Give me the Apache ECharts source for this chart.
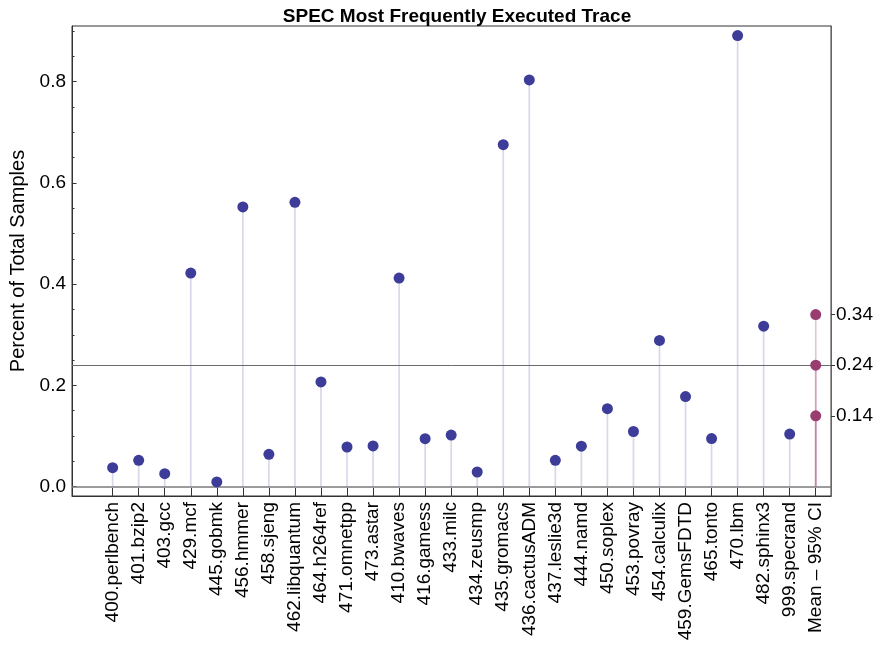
<!DOCTYPE html>
<html>
<head>
<meta charset="utf-8">
<script src="https://cdn.jsdelivr.net/npm/echarts@6/dist/echarts.min.js"></script>
<style>
html,body{margin:0;padding:0;background:#fff;}
#chart{width:876px;height:647px;}
</style>
</head>
<body>
<div id="chart"></div>
<script>
const categories = ["400.perlbench","401.bzip2","403.gcc","429.mcf","445.gobmk","456.hmmer","458.sjeng","462.libquantum","464.h264ref","471.omnetpp","473.astar","410.bwaves","416.gamess","433.milc","434.zeusmp","435.gromacs","436.cactusADM","437.leslie3d","444.namd","450.soplex","453.povray","454.calculix","459.GemsFDTD","465.tonto","470.lbm","482.sphinx3","999.specrand","Mean \u2013 95% CI"];
const values = [0.0375,0.052,0.0257,0.422,0.0093,0.5525,0.064,0.5618,0.207,0.0784,0.0804,0.412,0.0948,0.102,0.029,0.6756,0.8034,0.052,0.080,0.154,0.109,0.289,0.178,0.095,0.891,0.317,0.104];
const ciValues = [0.14, 0.24, 0.34];
const meanValue = 0.24;
const leftTicks = [0, 0.2, 0.4, 0.6, 0.8];
const minorTicks = [0.05,0.1,0.15,0.25,0.3,0.35,0.45,0.5,0.55,0.65,0.7,0.75,0.85,0.9];
const rightTicks = [0.14, 0.24, 0.34];

const BLUE = '#3d3d99', PINK = '#993d70';
const meanIndex = categories.length - 1;
const idx = categories.map((c, i) => i);

const stemData = values.map((v, i) => ({value: [i, v], itemStyle: {color: 'rgba(61,61,153,0.2)'}}))
  .concat(ciValues.map(v => ({value: [meanIndex, v], itemStyle: {color: 'rgba(153,61,112,0.28)'}})));
const dotData = values.map((v, i) => ({value: [i, v], itemStyle: {color: BLUE, opacity: 1}}))
  .concat(ciValues.map(v => ({value: [meanIndex, v], itemStyle: {color: PINK, opacity: 1}})));

const FONT = 'Liberation Sans';
const YMIN = -0.0184, YMAX = 0.91;
const chart = echarts.init(document.getElementById('chart'), null, {renderer: 'canvas'});
chart.setOption({
  animation: false,
  backgroundColor: '#fff',
  title: {
    text: 'SPEC Most Frequently Executed Trace',
    left: 452, textAlign: 'center', top: 2,
    textStyle: {fontFamily: FONT, fontSize: 19, fontWeight: 'bold', color: '#000'}
  },
  grid: {left: 72, right: 44, top: 26, bottom: 151, show: true, borderColor: '#333', borderWidth: 1, backgroundColor: 'transparent'},
  xAxis: {
    type: 'value', min: -1.561, max: 27.587,
    splitLine: {show: false},
    axisLine: {show: true, onZero: false, lineStyle: {color: '#333', width: 1}},
    axisTick: {show: true, inside: true, length: 8, customValues: idx, lineStyle: {color: '#333'}},
    axisLabel: {
      customValues: idx, rotate: 90, margin: 6,
      formatter: v => categories[Math.round(v)],
      fontFamily: FONT, fontSize: 19, color: '#000'
    }
  },
  yAxis: [
    {
      type: 'value', position: 'left', min: YMIN, max: YMAX,
      name: 'Percent of Total Samples', nameLocation: 'middle', nameGap: 39,
      nameTextStyle: {fontFamily: FONT, fontSize: 20, color: '#000'},
      splitLine: {show: false},
      axisLine: {show: true, onZero: false, lineStyle: {color: '#333', width: 1}},
      axisTick: {show: true, inside: true, length: 4.5, customValues: leftTicks, lineStyle: {color: '#333'}},
      axisLabel: {customValues: leftTicks, margin: 6, formatter: v => v.toFixed(1), fontFamily: FONT, fontSize: 19, color: '#000'}
    },
    {
      type: 'value', position: 'right', min: YMIN, max: YMAX,
      splitLine: {show: false},
      axisLine: {show: true, onZero: false, lineStyle: {color: '#666', width: 1}},
      axisTick: {show: true, inside: false, length: 4, customValues: rightTicks, lineStyle: {color: '#333'}},
      axisLabel: {customValues: rightTicks, margin: 5, formatter: v => v.toFixed(2), fontFamily: FONT, fontSize: 19, color: '#000'}
    },
    {
      type: 'value', position: 'left', min: YMIN, max: YMAX,
      splitLine: {show: false},
      axisLine: {show: false, onZero: false},
      axisTick: {show: true, inside: true, length: 2.5, customValues: minorTicks, lineStyle: {color: '#333'}},
      axisLabel: {show: false}
    }
  ],
  series: [
    {
      type: 'bar', data: stemData, barWidth: 1.7, yAxisIndex: 0, z: 2, silent: true,
      markLine: {
        silent: true, symbol: 'none', label: {show: false},
        data: [
          {yAxis: 0, lineStyle: {color: '#7a7a7a', width: 1.6, type: 'solid'}},
          {yAxis: meanValue, lineStyle: {color: '#6a6a6a', width: 1, type: 'solid'}}
        ]
      }
    },
    {
      type: 'scatter', data: dotData, symbolSize: 11, yAxisIndex: 0, z: 5, silent: true
    }
  ]
});
</script>
</body>
</html>
